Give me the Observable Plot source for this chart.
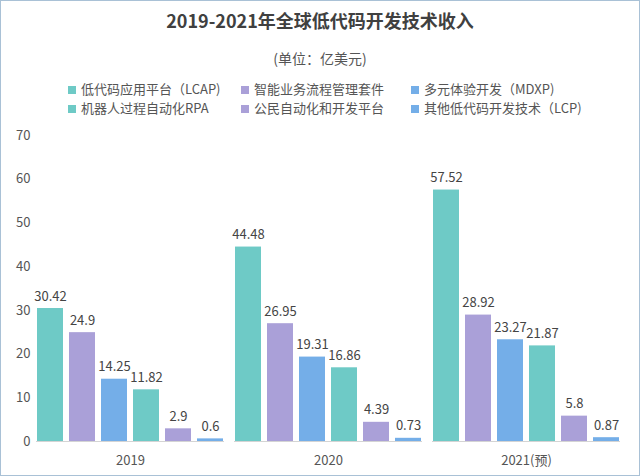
<!DOCTYPE html>
<html>
<head>
<meta charset="utf-8">
<script src="https://cdn.jsdelivr.net/npm/d3@7"></script>
<script src="https://cdn.jsdelivr.net/npm/@observablehq/plot@0.6"></script>
<style>
  html, body { margin: 0; padding: 0; background: #fff; }
  #wrap { width: 640px; height: 476px; box-sizing: border-box; border: 1px solid #a9c1d6; position: relative; overflow: hidden; font-family: "Noto Sans CJK SC", sans-serif; }
  #title { height: 39px; line-height: 39px; text-align: center; font-size: 18px; font-weight: bold; color: #404040; }
  #subtitle { height: 39px; line-height: 36px; text-align: center; font-size: 14px; color: #555; }
  #legend { height: 40px; position: relative; font-size: 13px; color: #555; }
  .item { position: absolute; height: 19px; line-height: 19px; white-space: nowrap; }
  .sw { display: inline-block; width: 8px; height: 8px; margin-right: 5px; vertical-align: 0px; }
  svg { display: block; }
</style>
</head>
<body>
<div id="wrap">
  <div id="title">2019-2021年全球低代码开发技术收入</div>
  <div id="subtitle">(单位：亿美元)</div>
  <div id="legend"></div>
  <div id="chart"></div>
</div>
<script>
const years = ["2019", "2020", "2021(预)"];
const series = ["低代码应用平台（LCAP)", "智能业务流程管理套件", "多元体验开发（MDXP)", "机器人过程自动化RPA", "公民自动化和开发平台", "其他低代码开发技术（LCP)"];
const colors = ["#6ecac6", "#aaa0d8", "#74aee8", "#6ecac6", "#aaa0d8", "#74aee8"];
const values2019 = [30.42, 24.9, 14.25, 11.82, 2.9, 0.6];
const values2020 = [44.48, 26.95, 19.31, 16.86, 4.39, 0.73];
const values2021 = [57.52, 28.92, 23.27, 21.87, 5.8, 0.87];
const yTicks = [0, 10, 20, 30, 40, 50, 60, 70];

const valuesByYear = [values2019, values2020, values2021];
const data = years.flatMap((yr, i) => series.map((s, j) => ({year: yr, series: s, value: valuesByYear[i][j]})));

// legend
const legend = document.getElementById("legend");
const colLeft = [67, 240, 410];
series.forEach((s, i) => {
  const col = i % 3, row = Math.floor(i / 3);
  const el = document.createElement("div");
  el.className = "item";
  el.style.left = colLeft[col] + "px";
  el.style.top = (row * 19) + "px";
  el.innerHTML = `<span class="sw" style="background:${colors[i]}"></span>${s}`;
  legend.appendChild(el);
});

const chart = Plot.plot({
  width: 638,
  height: 356,
  marginTop: 16,
  marginBottom: 34,
  marginLeft: 30,
  marginRight: 14,
  style: {fontFamily: "Noto Sans CJK SC, sans-serif", fontSize: "13px", color: "#555", background: "transparent"},
  fx: {domain: years, paddingInner: 0.05, paddingOuter: 0.02, label: null, tickSize: 0, tickPadding: 14},
  x: {domain: series, paddingInner: 0.18, paddingOuter: 0, axis: null},
  y: {domain: [0, 70], ticks: yTicks, tickSize: 0, tickPadding: 6, label: null},
  color: {domain: series, range: colors},
  marks: [
    Plot.ruleY([0], {stroke: "#d4d4d4"}),
    Plot.barY(data, {fx: "year", x: "series", y: "value", fill: "series"}),
    Plot.text(data, {fx: "year", x: "series", y: "value", text: d => String(d.value), dy: -8, lineAnchor: "bottom", fill: "#444", fontSize: 13})
  ]
});
document.getElementById("chart").appendChild(chart);
</script>
</body>
</html>
